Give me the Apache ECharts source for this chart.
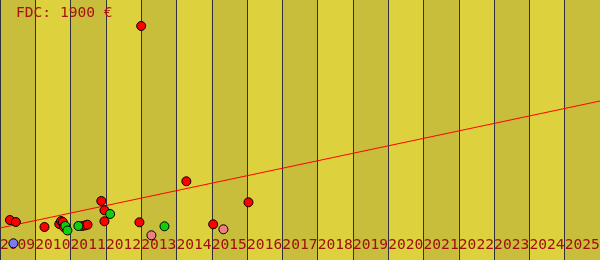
<!DOCTYPE html>
<html><head><meta charset="utf-8">
<script src="https://cdn.jsdelivr.net/npm/echarts@6/dist/echarts.min.js"></script>
<style>html,body{margin:0;padding:0;background:#ddd23e}#c{width:600px;height:260px}</style>
</head><body><div id="c"></div>
<script>
// x = fractional year, y = value (arbitrary units, 0..260)
var titleText = "FDC: 1900 €";
var yearTicks = [2009,2010,2011,2012,2013,2014,2015,2016,2017,2018,2019,2020,2021,2022,2023,2024,2025];
var redPoints = [
  [2009.28,40],[2009.45,38],[2010.26,33],[2010.68,36],[2010.73,39],[2010.78,38],[2010.81,33],
  [2011.33,34],[2011.42,34.7],[2011.48,35.3],[2011.87,59],[2011.96,49.7],[2011.96,38.7],
  [2012.95,37.7],[2013.00,234],[2014.28,78.7],[2015.04,35.7],[2016.04,57.7]
];
var greenPoints = [[2010.85,34],[2010.91,29.5],[2011.22,34],[2012.12,46],[2013.66,33.7]];
var pinkPoints = [[2013.29,24.7],[2015.33,30.7]];
var bluePoints = [[2009.38,16.7]];
var trendLine = [[2009,32],[2026,159]];

var chart = echarts.init(document.getElementById('c'), null, {renderer:'canvas'});
var font = '"DejaVu Sans Mono", monospace';
function sc(data,color){
  return {type:'scatter',data:data,symbolSize:9,zlevel:1,
    itemStyle:{color:color,borderColor:'#000',borderWidth:1,opacity:1},z:10};
}
chart.setOption({
  animation:false,
  backgroundColor:'#ddd23e',
  title:{text:titleText,left:16,top:6,padding:0,textStyle:{fontFamily:font,fontSize:14.6,fontWeight:'normal',color:'#aa1111'}},
  grid:{left:0,right:0,top:0,bottom:0,containLabel:false,outerBoundsMode:'none'},
  xAxis:{type:'value',min:2009,max:2026,interval:1,z:1,
    axisLine:{show:false},axisTick:{show:false},
    splitLine:{show:true,lineStyle:{color:'#30303c',width:1}},
    splitArea:{show:true,areaStyle:{color:['#c9be3b','#ddd23e']}},
    axisLabel:{inside:true,margin:7,align:'left',fontFamily:font,fontSize:14.6,color:'#a01010',
      showMinLabel:true,showMaxLabel:false,hideOverlap:false,
      formatter:function(v){return yearTicks.indexOf(v)>=0?String(v):'';}}
  },
  yAxis:{type:'value',min:0,max:260,show:false,splitLine:{show:false}},
  series:[
    {type:'line',data:trendLine,symbol:'none',lineStyle:{color:'#ff0000',width:1},z:3},
    sc(redPoints,'#ff0000'),sc(greenPoints,'#11cc11'),sc(pinkPoints,'#f08080'),sc(bluePoints,'#7c7cf0')
  ]
});
</script></body></html>
